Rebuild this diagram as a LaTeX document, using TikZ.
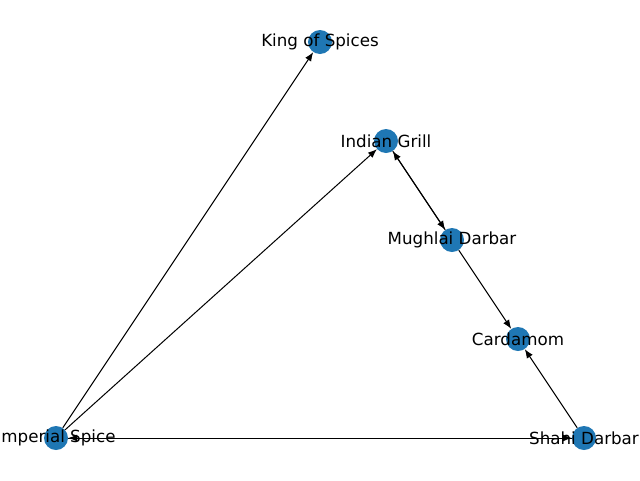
\documentclass[tikz,border=0pt]{standalone}
\usepackage{fontspec}
\setmainfont{DejaVu Sans}
\usetikzlibrary{arrows.meta}
\definecolor{nodeblue}{HTML}{1F77B4}
\tikzset{
  dot/.style={circle,fill=nodeblue,draw=none,minimum size=24pt,inner sep=0pt},
  lbl/.style={font=\fontsize{16.7}{20}\selectfont,inner sep=0pt,text=black},
  edge/.style={-{Latex[length=9pt,width=7pt]},line width=1pt,black}
}
\begin{document}
\begin{tikzpicture}[x=1pt,y=-1pt]
\useasboundingbox (0,0) rectangle (640,480);
\clip (0,0) rectangle (640,480);
\node[dot] (ks) at (320,42) {};
\node[dot] (ig) at (386,141) {};
\node[dot] (md) at (452,240) {};
\node[dot] (ca) at (518,339) {};
\node[dot] (is) at (56,438) {};
\node[dot] (sd) at (584,438) {};
\draw[edge] (is) -- (ks);
\draw[edge] (is) -- (ig);
\draw[edge] (is) -- (sd);
\draw[edge] (sd) -- (is);
\draw[edge] (ig) -- (md);
\draw[edge] (md) -- (ig);
\draw[edge] (md) -- (ca);
\draw[edge] (sd) -- (ca);
\node[lbl] (ksl) at (ks) {King of Spices};
\node[lbl] (igl) at (ig) {Indian Grill};
\node[lbl] (mdl) at (md) {Mughlai Darbar};
\node[lbl] (cal) at (ca) {Cardamom};
\node[lbl] (isl) at (is) {Imperial Spice};
\node[lbl] (sdl) at (sd) {Shahi Darbar};
\end{tikzpicture}
\end{document}
